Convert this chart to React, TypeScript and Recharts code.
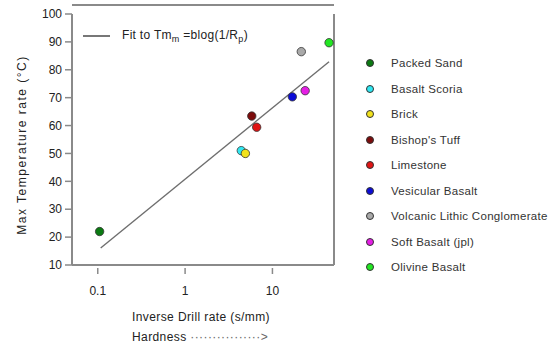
import { ScatterChart, Scatter, XAxis, YAxis, ReferenceLine, Legend } from 'recharts';

const MATERIALS = [
  'Packed Sand',
  'Basalt Scoria',
  'Brick',
  "Bishop's Tuff",
  'Limestone',
  'Vesicular Basalt',
  'Volcanic Lithic Conglomerate',
  'Soft Basalt (jpl)',
  'Olivine Basalt',
];
const DRILL_RATE = [0.105, 4.4, 4.9, 5.8, 6.6, 16.9, 21.4, 23.7, 44.5];
const MAX_TEMP = [22, 51, 50, 63.4, 59.4, 70.3, 86.5, 72.5, 89.7];
const COLORS = [
  '#0b7a12', // dark green
  '#30e8f2', // cyan
  '#f2e21c', // yellow
  '#7c0c0c', // maroon
  '#e01414', // red
  '#0c0cd6', // blue
  '#a9a9a9', // gray
  '#e41ee4', // magenta
  '#22e622', // green
];

// fit line Tm = a + b*log10(1/Rp), end points
const FIT_X = [0.108, 44.5];
const FIT_Y = [16.1, 82.9];

const X_TICKS = [0.1, 1, 10];
const Y_TICKS = [10, 20, 30, 40, 50, 60, 70, 80, 90, 100];

const AXIS = '#8a8a8a';
const FONT = '"Liberation Sans", Arial, sans-serif';

const fitData = FIT_X.map((x, i) => ({ x, y: FIT_Y[i] }));

const Dot = (props: any) => (
  <circle cx={props.cx} cy={props.cy} r={4.2} fill={props.fill} stroke="#333" strokeWidth={0.8} />
);

const XTick = ({ x, y, payload }: any) => (
  <g>
    <line x1={x} x2={x} y1={y + 3} y2={y + 9} stroke={AXIS} strokeWidth={1.5} />
    <text x={x} y={y + 30} textAnchor="middle" fontSize={12} fill="#222" fontFamily={FONT}>
      {payload.value}
    </text>
  </g>
);

const YLabel = () => (
  <text
    x={26}
    y={145}
    transform="rotate(-90 26 145)"
    textAnchor="middle"
    fontSize={12}
    fill="#222"
    fontFamily={FONT}
    letterSpacing={1.5}
  >
    Max Temperature rate  (°C)
  </text>
);

function renderLegend() {
  return (
    <div style={{ position: 'relative', width: 553, height: 347, fontFamily: FONT, color: '#222' }}>
      <div style={{ position: 'absolute', left: 83, top: 28, display: 'flex', alignItems: 'center' }}>
        <span style={{ display: 'inline-block', width: 27, height: 2, background: '#777' }} />
        <span style={{ marginLeft: 12, fontSize: 12, letterSpacing: 0.3 }}>
          Fit to Tm<sub style={{ fontSize: 9 }}>m</sub> =blog(1/R<sub style={{ fontSize: 9 }}>p</sub>)
        </span>
      </div>
      {MATERIALS.map((name, i) => (
        <div
          key={name}
          style={{
            position: 'absolute',
            left: 366,
            top: 57 + i * 25.5,
            display: 'flex',
            alignItems: 'center',
            fontSize: 11.5,
            whiteSpace: 'nowrap',
            color: '#333',
          }}
        >
          <span
            style={{
              display: 'inline-block',
              width: 6,
              height: 6,
              borderRadius: '50%',
              background: COLORS[i],
              border: '0.8px solid #333',
            }}
          />
          <span style={{ marginLeft: 17, letterSpacing: 0.3 }}>{name}</span>
        </div>
      ))}
      <div style={{ position: 'absolute', left: 132, top: 310, fontSize: 12, letterSpacing: 0.4 }}>
        Inverse Drill rate (s/mm)
      </div>
      <div style={{ position: 'absolute', left: 132, top: 330, fontSize: 12, letterSpacing: 0.4 }}>
        Hardness <span style={{ color: '#666' }}>················&gt;</span>
      </div>
    </div>
  );
}

export default function App() {
  return (
    <div style={{ position: 'absolute', left: 0, top: 0, width: 553, height: 347, background: '#fff' }}>
      <div style={{ position: 'absolute', left: 72, top: 4, width: 262, height: 2, background: AXIS }} />
      <ScatterChart width={553} height={347} margin={{ top: 14, right: 219, bottom: 52, left: 32 }}>
        <XAxis
          type="number"
          dataKey="x"
          scale="log"
          domain={[0.0507, 50.7]}
          ticks={X_TICKS}
          allowDataOverflow
          axisLine={{ stroke: AXIS, strokeWidth: 2 }}
          tickLine={false}
          tickSize={0}
          tickMargin={0}
          tick={<XTick />}
          height={30}
        />
        <YAxis
          type="number"
          dataKey="y"
          domain={[10, 100]}
          ticks={Y_TICKS}
          width={40}
          axisLine={{ stroke: AXIS, strokeWidth: 2 }}
          tickLine={{ stroke: AXIS, strokeWidth: 1.5 }}
          tickSize={7}
          tickMargin={3}
          tick={{ fontSize: 12, fill: '#222', fontFamily: FONT }}
          label={<YLabel />}
        />
        <ReferenceLine x={50.7} stroke={AXIS} strokeWidth={2} />
        <Scatter
          data={fitData}
          line={{ stroke: '#6e6e6e', strokeWidth: 1.4 }}
          shape={() => <g />}
          isAnimationActive={false}
        />
        {MATERIALS.map((name, i) => (
          <Scatter
            key={name}
            name={name}
            data={[{ x: DRILL_RATE[i], y: MAX_TEMP[i] }]}
            fill={COLORS[i]}
            shape={Dot}
            isAnimationActive={false}
          />
        ))}
        <Legend
          layout="horizontal"
          verticalAlign="middle"
          align="center"
          content={renderLegend}
          wrapperStyle={{ left: 0, top: 0, width: 553, height: 347, pointerEvents: 'none' }}
        />
      </ScatterChart>
    </div>
  );
}
